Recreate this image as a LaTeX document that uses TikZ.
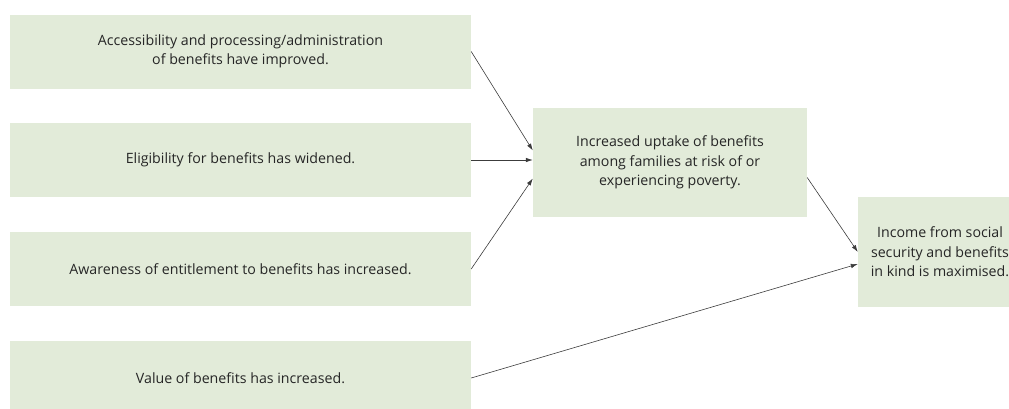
\documentclass[tikz,border=0pt]{standalone}
\usepackage{fontspec}
\setmainfont{Open Sans}
\usetikzlibrary{arrows.meta}
\definecolor{boxgreen}{RGB}{226,235,217}
\definecolor{txtgrey}{RGB}{38,38,38}
\definecolor{linegrey}{RGB}{60,60,60}
\begin{document}
\begin{tikzpicture}[
  x=1pt,y=-1pt,
  cause/.style={fill=boxgreen,align=center,text=txtgrey,minimum width=461pt,minimum height=74pt,inner sep=0pt,font=\fontsize{14.2}{19.5}\selectfont},
  mid/.style={fill=boxgreen,align=center,text=txtgrey,minimum width=274pt,minimum height=109pt,inner sep=0pt,font=\fontsize{14.2}{19.5}\selectfont},
  goal/.style={fill=boxgreen,align=center,text=txtgrey,minimum width=164pt,minimum height=110pt,inner sep=0pt,font=\fontsize{14.2}{19.5}\selectfont},
  link/.style={draw=linegrey,line width=0.6pt,-{Latex[length=7pt,width=4.5pt]}}
]

\clip (0,0) rectangle (1009,408);

\node[cause] (acc) at (240.5,51.5) {Accessibility and processing/administration\\of benefits have improved.};
\node[cause] (elig) at (240.5,160) {Eligibility for benefits has widened.};
\node[cause] (aware) at (240.5,269) {Awareness of entitlement to benefits has increased.};
\node[cause] (value) at (240.5,378) {Value of benefits has increased.};

\node[mid] (uptake) at (670,162.5) {Increased uptake of benefits\\among families at risk of or\\experiencing poverty.};
\node[goal] (income) at (940,252) {Income from social\\security and benefits\\in kind is maximised.};

\draw[link] (acc.east) -- ([yshift=12pt]uptake.west);
\draw[link] (elig.east) -- (elig.east -| uptake.west);
\draw[link] (aware.east) -- ([yshift=-16pt]uptake.west);
\draw[link] ([yshift=-15pt]uptake.east) -- (income.west);
\draw[link] (value.east) -- ([yshift=-12pt]income.west);

\end{tikzpicture}
\end{document}
